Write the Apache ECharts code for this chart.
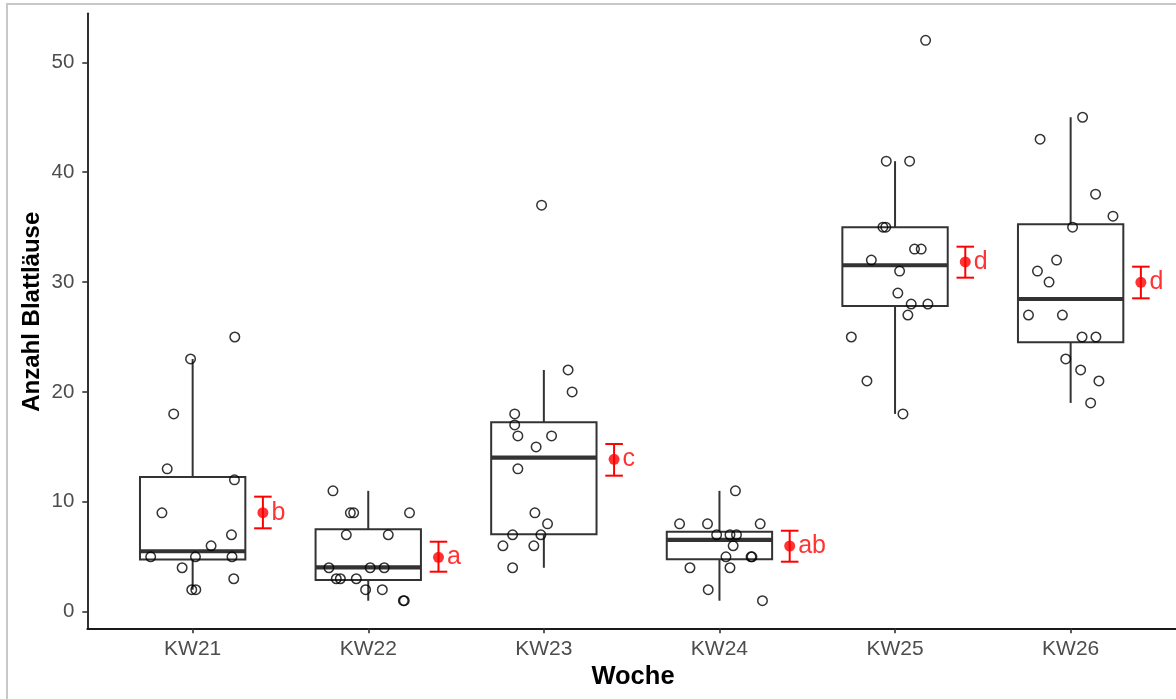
<!DOCTYPE html>
<html><head><meta charset="utf-8">
<script src="https://cdn.jsdelivr.net/npm/echarts@6/dist/echarts.min.js"></script>
<style>html,body{margin:0;padding:0;background:#fff}#c{width:1176px;height:699px}</style>
</head><body><div id="c"></div>
<script>
const categories = ['KW21','KW22','KW23','KW24','KW25','KW26'];
const yTicks = [0,10,20,30,40,50];

// Box statistics
const boxLow    = [2, 1, 4, 1, 18, 19];
const boxQ1     = [4.75, 2.88, 7.04, 4.77, 27.82, 24.52];
const boxMedian = [5.5, 4.04, 14.02, 6.53, 31.53, 28.46];
const boxQ3     = [12.25, 7.5, 17.24, 7.28, 34.98, 35.26];
const boxHigh   = [23, 11, 22, 11, 41, 45];

// Means with error bars and group letters
const meanVals = [9.01, 4.95, 13.87, 5.98, 31.83, 29.98];
const meanLow  = [7.59, 3.64, 12.38, 4.55, 30.40, 28.52];
const meanHigh = [10.47, 6.37, 15.26, 7.37, 33.22, 31.40];
const letters  = ['b', 'a', 'c', 'ab', 'd', 'd'];

// Individual observations (jittered horizontally, offsets in category units)
const kw21 = [25, 23, 18, 13, 12, 9, 7, 6, 5, 5, 5, 4, 3, 2, 2];
const kw21Jitter = [0.24, -0.012, -0.108, -0.145, 0.238, -0.175, 0.221, 0.105, -0.239, 0.016, 0.224, -0.06, 0.234, -0.005, 0.018];
const kw22 = [11, 9, 9, 9, 7, 7, 4, 4, 4, 3, 3, 3, 2, 2, 1, 1];
const kw22Jitter = [-0.201, -0.102, -0.083, 0.235, -0.125, 0.114, -0.224, 0.011, 0.091, -0.182, -0.159, -0.068, -0.015, 0.08, 0.2, 0.205];
const kw23 = [37, 22, 20, 18, 17, 16, 16, 15, 13, 9, 8, 7, 7, 6, 6, 4];
const kw23Jitter = [-0.013, 0.138, 0.161, -0.166, -0.166, -0.148, 0.044, -0.044, -0.148, -0.051, 0.021, -0.178, -0.017, -0.233, -0.057, -0.178];
const kw24 = [11, 8, 8, 8, 7, 7, 7, 6, 5, 5, 5, 4, 4, 2, 1];
const kw24Jitter = [0.091, -0.227, -0.068, 0.232, -0.016, 0.06, 0.097, 0.078, 0.037, 0.18, 0.185, -0.168, 0.06, -0.064, 0.245];
const kw25 = [52, 41, 41, 35, 35, 33, 33, 32, 31, 29, 28, 28, 27, 25, 21, 18];
const kw25Jitter = [0.174, -0.05, 0.083, -0.069, -0.053, 0.111, 0.149, -0.135, 0.026, 0.016, 0.092, 0.187, 0.073, -0.249, -0.16, 0.045];
const kw26 = [45, 43, 38, 36, 35, 32, 31, 30, 27, 27, 25, 25, 23, 22, 21, 19];
const kw26Jitter = [0.068, -0.174, 0.142, 0.241, 0.011, -0.08, -0.189, -0.123, -0.24, -0.047, 0.065, 0.144, -0.028, 0.057, 0.161, 0.114];

const groups = [[kw21, kw21Jitter], [kw22, kw22Jitter], [kw23, kw23Jitter], [kw24, kw24Jitter], [kw25, kw25Jitter], [kw26, kw26Jitter]];
const pointData = [];
groups.forEach(function (g, gi) {
  g[0].forEach(function (v, i) { pointData.push([gi + 1 + g[1][i], v]); });
});
const boxData = categories.map(function (c, i) {
  return [i + 1, boxLow[i], boxQ1[i], boxMedian[i], boxQ3[i], boxHigh[i]];
});
const meanOffset = 0.4;
const errData = categories.map(function (c, i) { return [i + 1 + meanOffset, meanLow[i], meanHigh[i]]; });
const meanData = categories.map(function (c, i) { return { value: [i + 1 + meanOffset, meanVals[i]], letter: letters[i] }; });

const FONT = "'Liberation Sans', Arial, Helvetica, sans-serif";
const chart = echarts.init(document.getElementById('c'), null, { renderer: 'canvas' });
chart.setOption({
  animation: false,
  backgroundColor: '#ffffff',
  grid: { left: 87.3, top: 13.3, width: 1091.8, height: 615, containLabel: false },
  xAxis: {
    type: 'value', min: 0.4, max: 6.6,
    splitLine: { show: false },
    axisLine: { show: true, onZero: false, lineStyle: { color: '#1a1a1a', width: 1.8 } },
    axisTick: { show: true, length: 5, customValues: [1, 2, 3, 4, 5, 6], lineStyle: { color: '#333', width: 1.6 } },
    axisLabel: {
      customValues: [1, 2, 3, 4, 5, 6], margin: 10,
      color: '#4d4d4d', fontSize: 21, fontFamily: FONT,
      formatter: function (v) { return categories[Math.round(v) - 1] || ''; }
    }
  },
  yAxis: {
    type: 'value', min: -1.51, max: 54.46,
    splitLine: { show: false },
    axisLine: { show: true, onZero: false, lineStyle: { color: '#1a1a1a', width: 1.8 } },
    axisTick: { show: true, length: 5, customValues: yTicks, lineStyle: { color: '#333', width: 1.6 } },
    axisLabel: { customValues: yTicks, margin: 13, color: '#4d4d4d', fontSize: 20.5, fontFamily: FONT }
  },
  graphic: [
    { type: 'rect', z: -10, shape: { x: 7, y: 4, width: 1400, height: 900 }, style: { fill: 'none', stroke: '#c8c8c8', lineWidth: 2 } },
    { type: 'text', x: 633, y: 677, style: { text: 'Woche', font: 'bold 25.5px ' + FONT, fill: '#000', textAlign: 'center', textVerticalAlign: 'middle' } },
    { type: 'text', x: 32.5, y: 311.7, rotation: Math.PI / 2, style: { text: 'Anzahl Blattläuse', font: 'bold 24px ' + FONT, fill: '#000', textAlign: 'center', textVerticalAlign: 'middle' } }
  ],
  series: [
    {
      type: 'custom', silent: true, z: 2,
      data: boxData,
      encode: { x: 0, y: [1, 2, 3, 4, 5] },
      renderItem: function (params, api) {
        const x = api.value(0);
        const half = api.size([0.3, 0])[0];
        const pLow = api.coord([x, api.value(1)]);
        const pQ1 = api.coord([x, api.value(2)]);
        const pMed = api.coord([x, api.value(3)]);
        const pQ3 = api.coord([x, api.value(4)]);
        const pHigh = api.coord([x, api.value(5)]);
        const stroke = { stroke: '#333333', lineWidth: 2, fill: 'none' };
        return {
          type: 'group',
          children: [
            { type: 'line', shape: { x1: pQ3[0], y1: pQ3[1], x2: pHigh[0], y2: pHigh[1] }, style: stroke },
            { type: 'line', shape: { x1: pQ1[0], y1: pQ1[1], x2: pLow[0], y2: pLow[1] }, style: stroke },
            { type: 'rect', shape: { x: pQ3[0] - half, y: pQ3[1], width: half * 2, height: pQ1[1] - pQ3[1] }, style: { stroke: '#333333', lineWidth: 2, fill: '#ffffff' } },
            { type: 'line', shape: { x1: pMed[0] - half, y1: pMed[1], x2: pMed[0] + half, y2: pMed[1] }, style: { stroke: '#333333', lineWidth: 4.2 } }
          ]
        };
      }
    },
    {
      type: 'scatter', z: 3, silent: true,
      data: pointData,
      symbol: 'circle', symbolSize: 9.5,
      itemStyle: { color: 'rgba(0,0,0,0)', borderColor: '#000000', borderWidth: 1.5 }
    },
    {
      type: 'custom', silent: true, z: 4,
      data: errData,
      encode: { x: 0, y: [1, 2] },
      renderItem: function (params, api) {
        const x = api.value(0);
        const half = api.size([0.05, 0])[0];
        const pL = api.coord([x, api.value(1)]);
        const pH = api.coord([x, api.value(2)]);
        const st = { stroke: '#ff0000', lineWidth: 2 };
        return {
          type: 'group',
          children: [
            { type: 'line', shape: { x1: pL[0], y1: pL[1], x2: pH[0], y2: pH[1] }, style: st },
            { type: 'line', shape: { x1: pL[0] - half, y1: pL[1], x2: pL[0] + half, y2: pL[1] }, style: st },
            { type: 'line', shape: { x1: pH[0] - half, y1: pH[1], x2: pH[0] + half, y2: pH[1] }, style: st }
          ]
        };
      }
    },
    {
      type: 'scatter', z: 5, silent: true,
      data: meanData,
      symbol: 'circle', symbolSize: 11,
      itemStyle: { color: '#ff0000' },
      label: {
        show: true, position: 'right', distance: 3,
        color: '#ff0000', fontSize: 25, fontFamily: FONT,
        formatter: function (p) { return p.data.letter; }
      }
    }
  ]
});
</script>
</body></html>
